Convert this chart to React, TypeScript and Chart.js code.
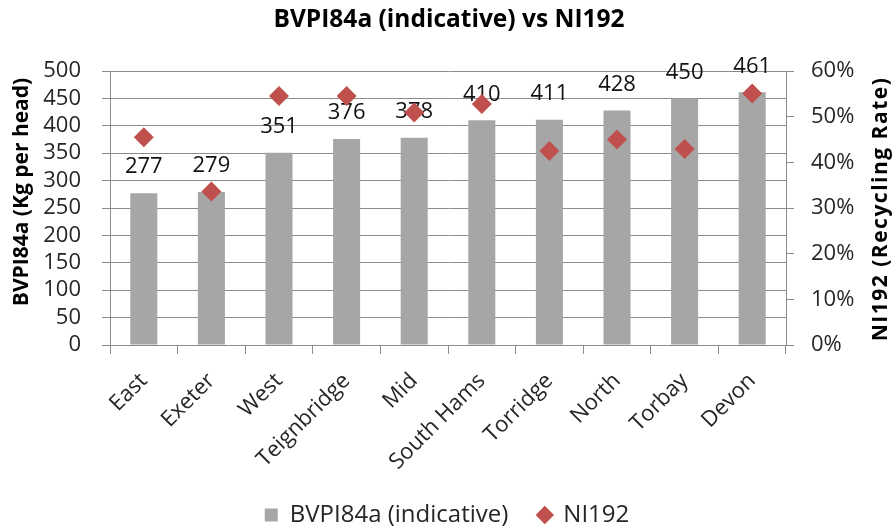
import React, { useEffect, useRef } from "react";
import { Chart, registerables } from "chart.js";

Chart.register(...registerables);

const categories = ["East", "Exeter", "West", "Teignbridge", "Mid", "South Hams", "Torridge", "North", "Torbay", "Devon"];
const bvpiValues = [277, 279, 351, 376, 378, 410, 411, 428, 450, 461];
const ni192Values = [0.455, 0.336, 0.545, 0.545, 0.509, 0.528, 0.425, 0.45, 0.429, 0.551];
const leftAxis = { min: 0, max: 500, step: 50 };
const rightAxis = { min: 0, max: 0.6, step: 0.1 };

const chartTitle = "BVPI84a (indicative) vs NI192";
const leftTitle = "BVPI84a (Kg per head)";
const rightTitle = "NI192 (Recycling Rate)";
const barLabel = "BVPI84a (indicative)";
const pointLabel = "NI192";

const W = 894;
const H = 532;
const PLOT_LEFT = 110;
const PLOT_RIGHT = 786;
const PLOT_TOP = 71;
const PLOT_BOTTOM = 345;
const PAD_BOTTOM = -5;

const FONT = "'Open Sans', Lato, sans-serif";
const GRID = "#8c8c8c";
const TEXT = "#262626";
const BAR_COLOR = "#A6A6A6";
const POINT_COLOR = "#C0504D";

const annotate = {
  id: "annotate",
  afterDatasetDraw(chart: any, args: any) {
    if (args.index !== 0) return;
    const ctx = chart.ctx;
    const meta = chart.getDatasetMeta(0);
    ctx.save();
    ctx.font = `22px ${FONT}`;
    ctx.fillStyle = "#111111";
    ctx.textAlign = "center";
    ctx.textBaseline = "middle";
    meta.data.forEach((bar: any, i: number) => {
      ctx.fillText(String(bvpiValues[i]), bar.x, bar.y - 26);
    });
    ctx.restore();
  },
  afterDraw(chart: any) {
    const ctx = chart.ctx;
    ctx.save();
    ctx.fillStyle = "#000000";
    ctx.textAlign = "center";
    ctx.textBaseline = "middle";
    ctx.font = `bold 24.5px ${FONT}`;
    ctx.fillText(chartTitle, 449, 20);
    ctx.font = `bold 21px ${FONT}`;
    ctx.save();
    ctx.translate(22, 192);
    ctx.rotate(-Math.PI / 2);
    ctx.fillText(leftTitle, 0, 0);
    ctx.restore();
    ctx.save();
    ctx.translate(881, 209);
    ctx.rotate(-Math.PI / 2);
    (ctx as any).letterSpacing = "1.5px";
    ctx.fillText(rightTitle, 0, 0);
    ctx.restore();
    ctx.restore();
  },
};

export default function App() {
  const ref = useRef<HTMLCanvasElement | null>(null);

  useEffect(() => {
    if (!ref.current) return;
    const chart = new Chart(ref.current, {
      type: "bar",
      data: {
        labels: categories,
        datasets: [
          {
            type: "bar",
            label: barLabel,
            data: bvpiValues,
            backgroundColor: BAR_COLOR,
            borderWidth: 0,
            barPercentage: 0.4,
            categoryPercentage: 1,
            yAxisID: "y",
            order: 1,
          } as any,
          {
            type: "line",
            label: pointLabel,
            data: ni192Values,
            showLine: false,
            pointStyle: "rectRot",
            pointRadius: 10,
            pointHoverRadius: 10,
            pointBorderWidth: 0,
            backgroundColor: POINT_COLOR,
            borderColor: POINT_COLOR,
            yAxisID: "y1",
            order: 0,
            clip: false,
          } as any,
        ],
      },
      options: {
        responsive: false,
        animation: false,
        devicePixelRatio: 1,
        layout: { padding: { top: PLOT_TOP, left: 0, right: 0, bottom: PAD_BOTTOM } },
        plugins: {
          title: { display: false },
          tooltip: { enabled: false },
          legend: {
            display: true,
            position: "bottom",
            labels: {
              usePointStyle: true,
              boxWidth: 13,
              boxHeight: 13,
              padding: 30,
              color: TEXT,
              font: { family: FONT, size: 24 },
              sort: (a: any, b: any) => a.datasetIndex - b.datasetIndex,
              generateLabels(c: any) {
                const items = (Chart.defaults.plugins.legend.labels as any).generateLabels(c);
                items.forEach((it: any) => {
                  const isBar = it.datasetIndex === 0;
                  it.pointStyle = isBar ? "rect" : "rectRot";
                  it.fillStyle = isBar ? BAR_COLOR : POINT_COLOR;
                  it.strokeStyle = "rgba(0,0,0,0)";
                  it.lineWidth = 0;
                });
                return items;
              },
            },
          },
        },
        scales: {
          x: {
            type: "category",
            offset: true,
            grid: { offset: true, drawOnChartArea: false, drawTicks: true, tickLength: 9, color: GRID, lineWidth: 1 },
            border: { display: true, color: GRID },
            ticks: {
              autoSkip: false,
              minRotation: 45,
              maxRotation: 45,
              padding: 14,
              color: TEXT,
              font: { family: FONT, size: 22 },
            },
            afterFit(scale: any) {
              const lh = scale.chart.legend ? scale.chart.legend.height : 61;
              scale.height = H - PLOT_BOTTOM - lh - PAD_BOTTOM;
            },
          },
          y: {
            type: "linear",
            position: "left",
            min: leftAxis.min,
            max: leftAxis.max,
            grid: { drawOnChartArea: true, drawTicks: true, tickLength: 8, color: GRID, lineWidth: 1 },
            border: { display: true, color: GRID },
            ticks: { stepSize: leftAxis.step, autoSkip: false, padding: 21, color: TEXT, font: { family: FONT, size: 22 } },
            afterFit(scale: any) {
              scale.width = PLOT_LEFT;
            },
          },
          y1: {
            type: "linear",
            position: "right",
            min: rightAxis.min,
            max: rightAxis.max,
            grid: { drawOnChartArea: false, drawTicks: true, tickLength: 8, color: GRID, lineWidth: 1 },
            border: { display: true, color: GRID },
            ticks: {
              stepSize: rightAxis.step,
              autoSkip: false,
              padding: 17,
              color: TEXT,
              font: { family: FONT, size: 22 },
              callback: (v: any) => `${Math.round(Number(v) * 100)}%`,
            },
            afterFit(scale: any) {
              scale.width = W - PLOT_RIGHT;
            },
          },
        },
      } as any,
      plugins: [annotate],
    });
    return () => chart.destroy();
  }, []);

  return (
    <div style={{ position: "fixed", left: 0, top: 0, width: W, height: H, background: "#ffffff" }}>
      <canvas ref={ref} width={W} height={H} style={{ width: W, height: H, display: "block" }} />
    </div>
  );
}
